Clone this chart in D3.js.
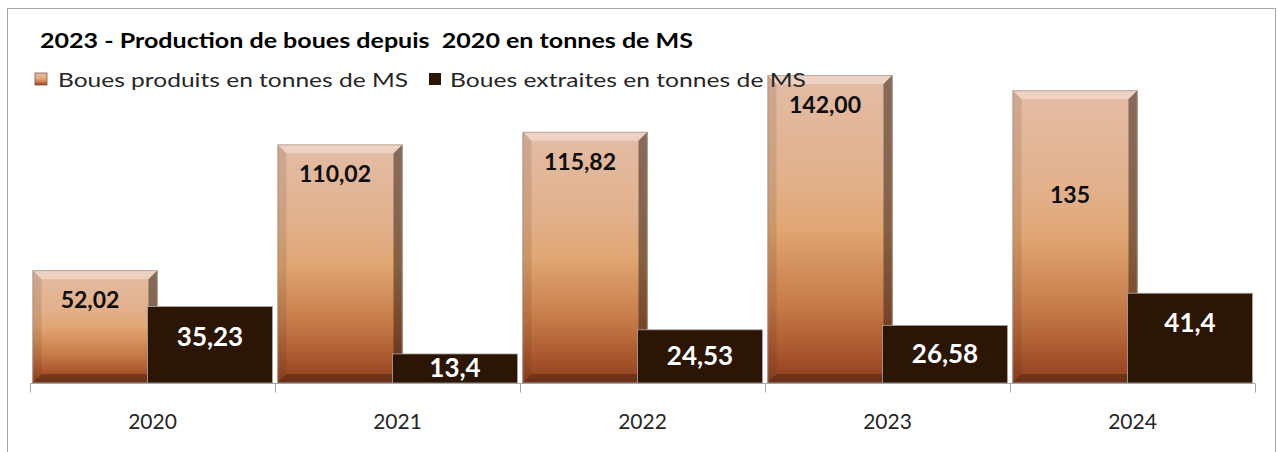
<!DOCTYPE html>
<html>
<head>
<meta charset="utf-8">
<script src="https://cdn.jsdelivr.net/npm/d3@7"></script>
<style>
  body { margin: 0; background: #fff; }
  svg { display: block; font-family: Lato, "Open Sans", sans-serif; }
</style>
</head>
<body>
<div id="chart"></div>
<script>
// data
const years     = ["2020", "2021", "2022", "2023", "2024"];
const produits  = [52.02, 110.02, 115.82, 142.00, 135];
const extraites = [35.23, 13.4, 24.53, 26.58, 41.4];
const lblProduits  = ["52,02", "110,02", "115,82", "142,00", "135"];
const lblExtraites = ["35,23", "13,4", "24,53", "26,58", "41,4"];
const seriesNames = ["Boues produits en tonnes de MS", "Boues extraites en tonnes de MS"];
const title = "2023 - Production de boues depuis  2020 en tonnes de MS";

var width = 1278, height = 452;

var svg = d3.select("#chart").append("svg")
    .attr("width", width)
    .attr("height", height);

var defs = svg.append("defs");
var grad = defs.append("linearGradient")
    .attr("id", "gradProd")
    .attr("x1", 0).attr("y1", 0).attr("x2", 0).attr("y2", 1);
grad.append("stop").attr("offset", "0%").attr("stop-color", "#e3bca6");
grad.append("stop").attr("offset", "35%").attr("stop-color", "#e2b08a");
grad.append("stop").attr("offset", "50%").attr("stop-color", "#e0a673");
grad.append("stop").attr("offset", "75%").attr("stop-color", "#c67a48");
grad.append("stop").attr("offset", "92%").attr("stop-color", "#a5512a");
grad.append("stop").attr("offset", "100%").attr("stop-color", "#8c4020");

// frame
svg.append("rect")
    .attr("x", 7.5).attr("y", 8.5)
    .attr("width", 1268).attr("height", 460)
    .attr("fill", "none")
    .attr("stroke", "#a6a6a6");

var x = d3.scaleBand()
    .domain(years)
    .range([30, 1255]);

var y = d3.scaleLinear()
    .domain([0, 160])
    .range([383, 36]);

var barW = 125, overlap = 10;
var pairW = barW * 2 - overlap;
function x0(i) { return x(years[i]) + (x.bandwidth() - pairW) / 2; }
function x1(i) { return x0(i) + barW - overlap; }

// produced bars (bevelled)
var bev = 9;
var gp = svg.append("g");
produits.forEach(function(v, i) {
    var bx = x0(i), by = y(v), bw = barW, bh = y(0) - y(v);
    var g = gp.append("g");
    g.append("rect")
        .attr("x", bx).attr("y", by).attr("width", bw).attr("height", bh)
        .attr("fill", "url(#gradProd)");
    // top bevel
    g.append("path")
        .attr("d", `M${bx},${by} L${bx+bw},${by} L${bx+bw-bev},${by+bev} L${bx+bev},${by+bev} Z`)
        .attr("fill", "#fff").attr("opacity", 0.35);
    // right bevel
    g.append("path")
        .attr("d", `M${bx+bw},${by} L${bx+bw},${by+bh} L${bx+bw-bev},${by+bh-bev} L${bx+bw-bev},${by+bev} Z`)
        .attr("fill", "#2a1a10").attr("opacity", 0.5);
    // left bevel
    g.append("path")
        .attr("d", `M${bx},${by} L${bx+bev},${by+bev} L${bx+bev},${by+bh-bev} L${bx},${by+bh} Z`)
        .attr("fill", "#3a2010").attr("opacity", 0.12);
    // bottom bevel
    g.append("path")
        .attr("d", `M${bx},${by+bh} L${bx+bev},${by+bh-bev} L${bx+bw-bev},${by+bh-bev} L${bx+bw},${by+bh} Z`)
        .attr("fill", "#2a1208").attr("opacity", 0.35);
    g.append("rect")
        .attr("x", bx + 0.5).attr("y", by + 0.5).attr("width", bw - 1).attr("height", bh - 1)
        .attr("fill", "none").attr("stroke", "#9a8a80").attr("stroke-width", 1).attr("opacity", 0.6);
});

// extracted bars
svg.append("g")
    .selectAll("rect")
    .data(extraites)
    .enter()
    .append("rect")
        .attr("x", (d, i) => x1(i))
        .attr("y", d => y(d))
        .attr("width", barW)
        .attr("height", d => y(0) - y(d))
        .attr("fill", "#2b1505")
        .attr("stroke", "#b0a8a0")
        .attr("stroke-width", 0.8);

// axis
var axis = svg.append("g").attr("transform", "translate(0,383.5)");
axis.append("line")
    .attr("x1", 30).attr("x2", 1255)
    .attr("stroke", "#a6a6a6");
axis.selectAll("tick")
    .data(d3.range(years.length + 1))
    .enter()
    .append("line")
        .attr("x1", i => 30.5 + i * x.step())
        .attr("x2", i => 30.5 + i * x.step())
        .attr("y1", 0).attr("y2", 9)
        .attr("stroke", "#a6a6a6");
axis.selectAll("lbl")
    .data(years)
    .enter()
    .append("text")
        .text(d => d)
        .attr("x", d => x(d) + x.bandwidth() / 2)
        .attr("y", 45)
        .attr("text-anchor", "middle")
        .attr("font-size", "21px")
        .attr("fill", "#262626");

// data labels, produced: near the top of the bar (2024 sits lower in the picture)
svg.append("g")
    .selectAll("text")
    .data(produits)
    .enter()
    .append("text")
        .text((d, i) => lblProduits[i])
        .attr("x", (d, i) => x0(i) + barW / 2 - 5)
        .attr("y", (d, i) => y(d) + (i === 4 ? 113 : 38))
        .attr("text-anchor", "middle")
        .attr("font-size", "23px")
        .attr("font-weight", "bold")
        .attr("fill", "#0d0d0d");

// data labels, extracted
svg.append("g")
    .selectAll("text")
    .data(extraites)
    .enter()
    .append("text")
        .text((d, i) => lblExtraites[i])
        .attr("x", (d, i) => x1(i) + barW / 2)
        .attr("y", d => y(d) + Math.min((y(0) - y(d)) / 2, 30) + 9)
        .attr("text-anchor", "middle")
        .attr("font-size", "26px")
        .attr("font-weight", "bold")
        .attr("fill", "#ffffff");

// title
svg.append("text")
    .text(title)
    .attr("x", 40).attr("y", 48)
    .attr("font-size", "21px")
    .attr("font-weight", "bold")
    .attr("fill", "#000")
    .attr("textLength", 653)
    .attr("lengthAdjust", "spacingAndGlyphs")
    .style("white-space", "pre");

// legend
var legX = [35, 429], legTxtX = [58, 450], legLen = [350, 356];
var leg = svg.append("g");
seriesNames.forEach(function(name, i) {
    leg.append("rect")
        .attr("x", legX[i]).attr("y", 73)
        .attr("width", 12).attr("height", 12)
        .attr("fill", i === 0 ? "url(#gradProd)" : "#2b1505")
        .attr("stroke", i === 0 ? "#7a5a48" : "none")
        .attr("stroke-width", 0.8);
    leg.append("text")
        .text(name)
        .attr("x", legTxtX[i]).attr("y", 87)
        .attr("font-size", "20px")
        .attr("fill", "#262626")
        .attr("textLength", legLen[i])
        .attr("lengthAdjust", "spacingAndGlyphs");
});
</script>
</body>
</html>
